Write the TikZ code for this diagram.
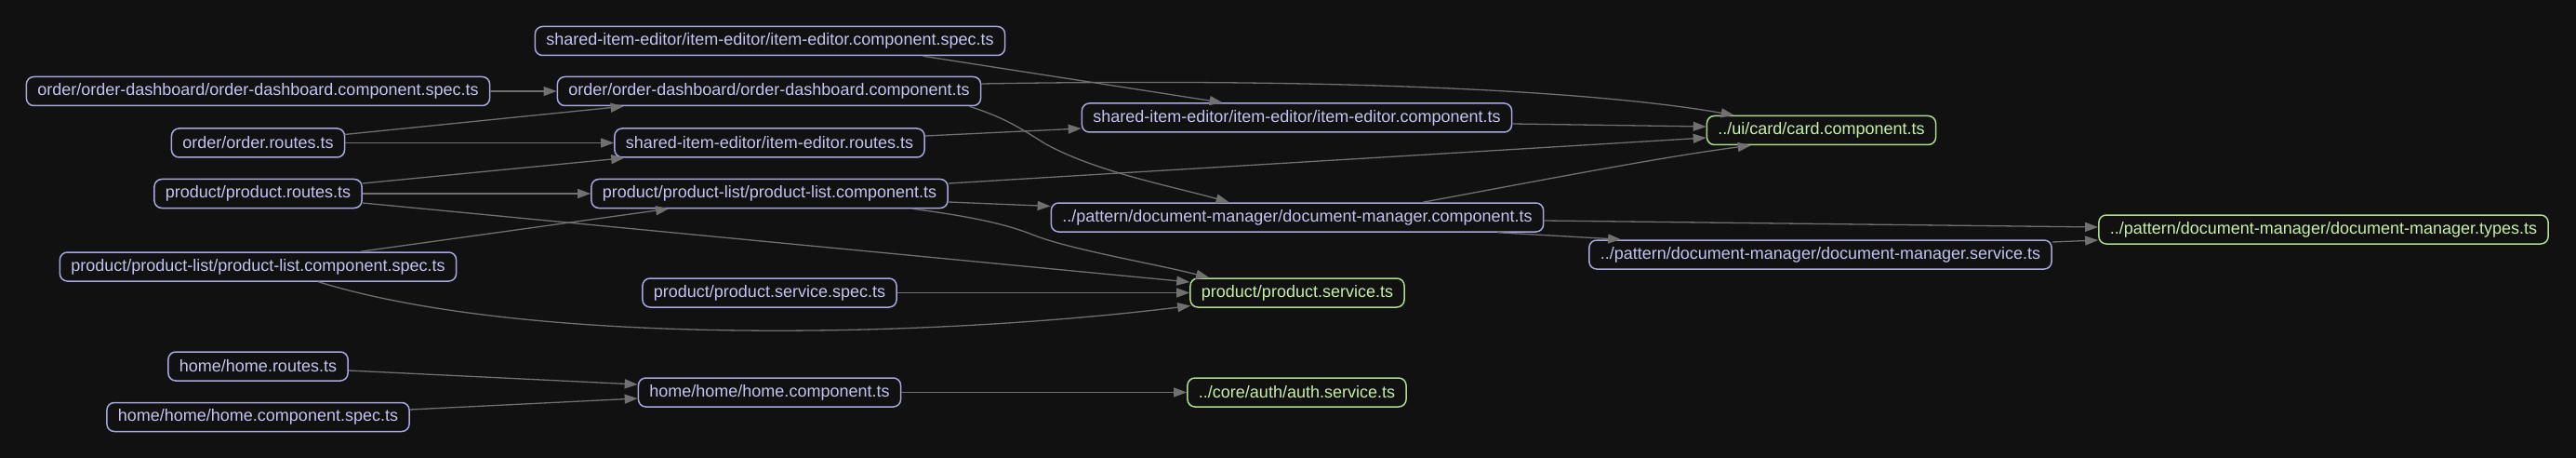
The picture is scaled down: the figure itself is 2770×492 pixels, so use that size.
\documentclass[tikz,border=0pt]{standalone}
\usepackage{fontspec}
\setmainfont{Liberation Sans}
\usetikzlibrary{arrows.meta,calc}
\definecolor{bg}{HTML}{111111}
\definecolor{nodeborder}{HTML}{A8A8E0}
\definecolor{nodetext}{HTML}{C4C4F2}
\definecolor{leafborder}{HTML}{B0DA8E}
\definecolor{leaftext}{HTML}{C8F0A8}
\definecolor{edgecol}{HTML}{707070}
\begin{document}
\begin{tikzpicture}[x=0.5pt,y=-0.5pt,
  file/.style={draw=nodeborder, text=nodetext, rounded corners=4pt, line width=0.75pt,
    minimum height=15.5pt, inner xsep=6pt, inner ysep=2pt,
    font=\fontsize{9}{11}\selectfont},
  leaf/.style={file, draw=leafborder, text=leaftext},
  dep/.style={draw=edgecol, line width=0.65pt, -{Triangle[length=7pt,width=5pt]}},
]
\fill[bg] (0,0) rectangle (2770,492);
\useasboundingbox (0,0) rectangle (2770,492);

% column 1
\node[file] (odspec) at (277.5,98) {order/order-dashboard/order-dashboard.component.spec.ts};
\node[file] (orroutes) at (277.5,153.5) {order/order.routes.ts};
\node[file] (prroutes) at (277.5,208) {product/product.routes.ts};
\node[file] (plspec) at (277.5,286.5) {product/product-list/product-list.component.spec.ts};
\node[file] (homeroutes) at (277.5,393.5) {home/home.routes.ts};
\node[file] (homespec) at (277.5,448) {home/home/home.component.spec.ts};
% column 2
\node[file] (iespec) at (828,44) {shared-item-editor/item-editor/item-editor.component.spec.ts};
\node[file] (odcomp) at (827,98) {order/order-dashboard/order-dashboard.component.ts};
\node[file] (ieroutes) at (827.5,153.5) {shared-item-editor/item-editor.routes.ts};
\node[file] (plcomp) at (827.5,208) {product/product-list/product-list.component.ts};
\node[file] (psspec) at (827.5,314.5) {product/product.service.spec.ts};
\node[file] (homecomp) at (827.5,421.5) {home/home/home.component.ts};
% column 3
\node[file] (iecomp) at (1394.5,126.5) {shared-item-editor/item-editor/item-editor.component.ts};
\node[file] (dmcomp) at (1395,233.5) {../pattern/document-manager/document-manager.component.ts};
\node[leaf] (pservice) at (1395,314.5) {product/product.service.ts};
\node[leaf] (auth) at (1394.5,421.5) {../core/auth/auth.service.ts};
% column 4
\node[leaf] (card) at (1958.5,140) {../ui/card/card.component.ts};
\node[file] (dmservice) at (1957.5,273.5) {../pattern/document-manager/document-manager.service.ts};
% column 5
\node[leaf] (dmtypes) at (2498.5,246.5) {../pattern/document-manager/document-manager.types.ts};

% edges
\draw[dep] (odspec.east) -- (odcomp.west);
\draw[dep] ($(orroutes.east)+(-1,-9)$) -- ($(odcomp.south west)+(72,0)$);
\draw[dep] (orroutes.east) -- (ieroutes.west);
\draw[dep] ($(prroutes.east)+(0,-11)$) -- ($(ieroutes.south west)+(11,0)$);
\draw[dep] (prroutes.east) -- (plcomp.west);
\draw[dep] ($(prroutes.east)+(0,10)$) -- ($(pservice.west)+(0,-11.5)$);
\draw[dep] ($(plspec.north east)+(-104,0)$) -- ($(plcomp.south west)+(84,0)$);
\draw[dep] ($(plspec.south east)+(-149,0)$) .. controls (560,370) and (980,365) .. ($(pservice.west)+(1,14)$);
\draw[dep] ($(iespec.south east)+(-89,0)$) -- ($(iecomp.north west)+(152,0)$);
\draw[dep] ($(odcomp.east)+(0,-8)$) .. controls (1400,84) and (1700,95) .. ($(card.north west)+(30,0)$);
\draw[dep] ($(odcomp.south east)+(-13,0)$) .. controls (1085,128) and (1100,140) .. (1125,155)
   .. controls (1180,185) and (1260,200) .. ($(dmcomp.north west)+(192,0)$);
\draw[dep] ($(ieroutes.east)+(0,-7.5)$) -- ($(iecomp.west)+(0,11.5)$);
\draw[dep] ($(iecomp.east)+(0,6.5)$) -- ($(card.west)+(0,-4)$);
\draw[dep] ($(plcomp.east)+(0,-11)$) -- ($(card.west)+(0,8)$);
\draw[dep] ($(plcomp.east)+(0,9)$) -- ($(dmcomp.west)+(0,-12)$);
\draw[dep] ($(plcomp.south east)+(-39,0)$) .. controls (1040,232) and (1080,240) .. (1110,252)
   .. controls (1150,268) and (1240,283) .. ($(pservice.north west)+(21,0)$);
\draw[dep] ($(dmcomp.north)+(135,0)$) .. controls (1650,195) and (1790,168) .. ($(card.south west)+(48,0)$);
\draw[dep] ($(dmcomp.east)+(0,3.5)$) -- ($(dmtypes.west)+(0,-2.5)$);
\draw[dep] ($(dmcomp.south east)+(-50,0)$) -- ($(dmservice.north west)+(35,0)$);
\draw[dep] ($(dmservice.east)+(0,-13.5)$) -- ($(dmtypes.west)+(0,11.5)$);
\draw[dep] (psspec.east) -- (pservice.west);
\draw[dep] ($(homeroutes.east)+(0,4.5)$) -- ($(homecomp.west)+(0,-8.5)$);
\draw[dep] ($(homespec.east)+(0,-8)$) -- ($(homecomp.west)+(0,6.5)$);
\draw[dep] (homecomp.east) -- (auth.west);
\end{tikzpicture}
\end{document}
